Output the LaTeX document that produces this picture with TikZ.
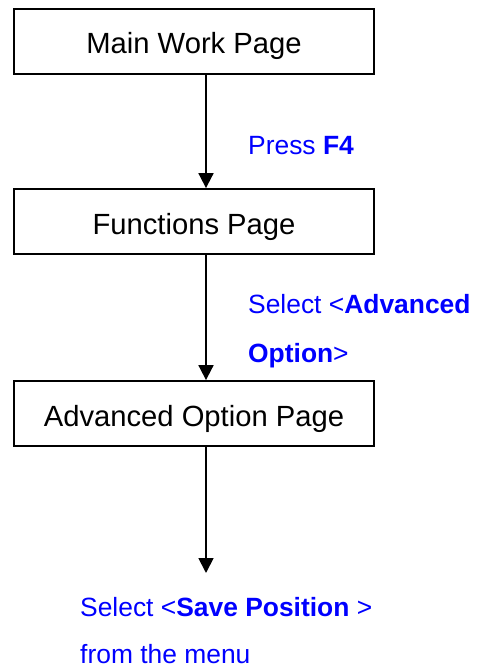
\documentclass[tikz,border=0pt]{standalone}
\usepackage{fontspec}
\setmainfont{Liberation Sans}
\usetikzlibrary{arrows.meta}
\definecolor{lblue}{RGB}{0,0,255}
\begin{document}
\begin{tikzpicture}[x=1pt,y=-1pt,
  pagebox/.style={draw=black, line width=1.8pt, minimum width=360pt, minimum height=65pt,
    inner sep=0pt, text height=25pt, text depth=0pt, font=\fontsize{29.2}{35}\selectfont},
  flow/.style={line width=1.8pt, -{Triangle[width=15pt,length=15pt]}},
  note/.style={anchor=base west, inner sep=0pt, text=lblue, font=\fontsize{26.4}{30}\selectfont}]
\useasboundingbox (0,0) rectangle (478,668);
\node[pagebox] (main) at (194,41.5) {Main Work Page};
\node[pagebox] (func) at (194,221.5) {Functions Page};
\node[pagebox] (adv) at (194,413.5) {Advanced Option Page};
\coordinate (end) at (206,573);
\draw[flow] (main.south -| end) -- (func.north -| end);
\draw[flow] (func.south -| end) -- (adv.north -| end);
\draw[flow] (adv.south -| end) -- (end);
\node[note] (n1) at (248,155) {Press \textbf{F4}};
\node[note] (n2) at (248,313) {Select <\textbf{Advanced}};
\node[note] (n3) at (248,362) {\textbf{Option}>};
\node[note] (n4) at (80,616) {Select <\textbf{Save Position} >};
\node[note] (n5) at (80,663) {from the menu};
\end{tikzpicture}
\end{document}
